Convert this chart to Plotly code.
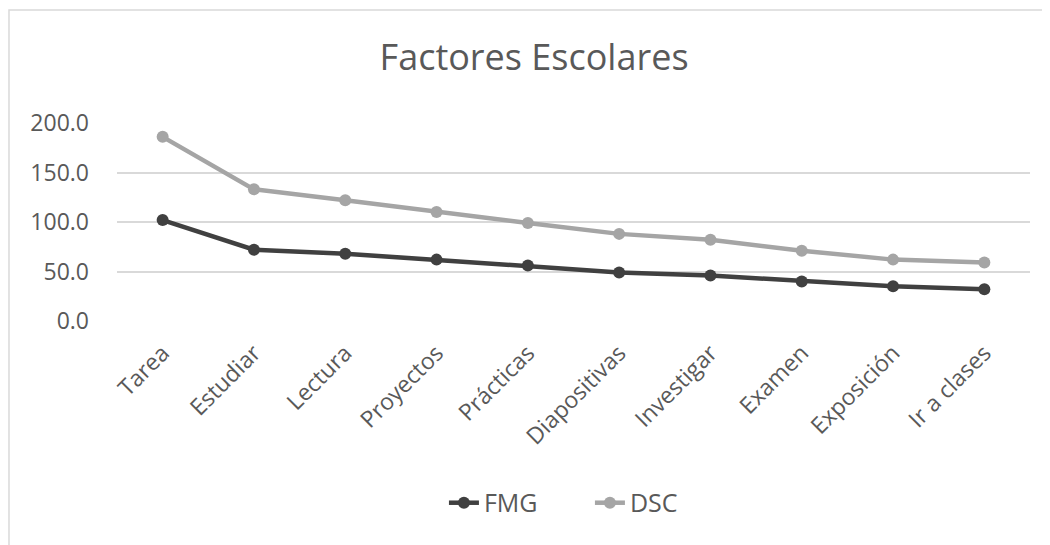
import plotly.graph_objects as go

categories = ["Tarea", "Estudiar", "Lectura", "Proyectos", "Prácticas",
              "Diapositivas", "Investigar", "Examen", "Exposición", "Ir a clases"]
fmg = [102, 72, 68, 62, 56, 49, 46, 40, 35, 32]
dsc = [186, 133, 122, 110, 99, 88, 82, 71, 62, 59]
y_ticks = [0, 50, 100, 150, 200]

FONT = "Open Sans"
TXT = "#595959"

fig = go.Figure()
fig.add_trace(go.Scatter(x=categories, y=fmg, name="FMG", mode="lines+markers",
                         line=dict(color="#404040", width=4.5),
                         marker=dict(color="#404040", size=12)))
fig.add_trace(go.Scatter(x=categories, y=dsc, name="DSC", mode="lines+markers",
                         line=dict(color="#a5a5a5", width=4.5),
                         marker=dict(color="#a5a5a5", size=12)))

fig.update_layout(
    width=1050, height=545,
    margin=dict(l=109, r=28, t=115, b=232),
    paper_bgcolor="white", plot_bgcolor="white",
    font=dict(family=FONT, color=TXT, size=22),
    title=dict(text="Factores Escolares", x=0.501, xanchor="center",
               y=0.91, yanchor="middle",
               font=dict(family=FONT, size=36, color=TXT)),
    showlegend=True,
    legend=dict(orientation="h", x=0.518, xanchor="center", y=-0.919, yanchor="middle",
                entrywidth=101, entrywidthmode="pixels",
                font=dict(family=FONT, size=25, color=TXT)),
    xaxis=dict(type="category", range=[-0.5, 9.5], showgrid=False, showline=False,
               zeroline=False, tickangle=-45, ticks="", ticklabelstandoff=13,
               tickfont=dict(family=FONT, size=23, color=TXT)),
    yaxis=dict(range=[0, 200], tickvals=y_ticks, ticktext=[f"{v:.1f}" for v in y_ticks],
               showgrid=True, gridcolor="#d9d9d9", gridwidth=1.5, zeroline=False,
               showline=False, ticks="", ticklabelstandoff=27,
               tickfont=dict(family=FONT, size=23, color=TXT)),
    shapes=[dict(type="rect", xref="paper", yref="paper",
                 x0=-0.1183, x1=1.2, y0=-2, y1=1.5707,
                 line=dict(color="#d9d9d9", width=1.5), fillcolor="rgba(0,0,0,0)",
                 layer="below")],
)

fig.write_html("out.html")
